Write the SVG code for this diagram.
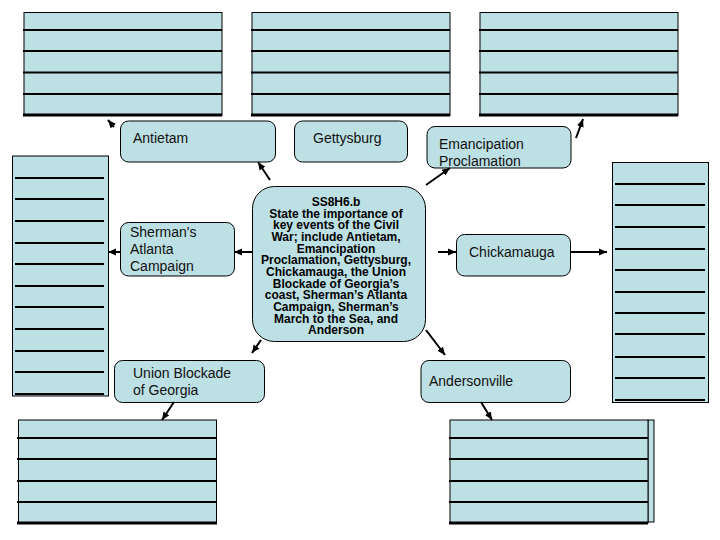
<svg xmlns="http://www.w3.org/2000/svg" width="720" height="540" viewBox="0 0 720 540">
<defs>
<style>
.box{fill:#BDE0E4;stroke:#000;stroke-width:1}
.ln{stroke:#000;stroke-width:2.2;fill:none}
.lb{stroke:#000;stroke-width:3;fill:none}
.node{fill:#BDE0E4;stroke:#000;stroke-width:1}
.t{font-family:"Liberation Sans",Arial,sans-serif;font-size:14px;fill:#111}
.c{font-family:"Liberation Sans",Arial,sans-serif;font-size:12px;font-weight:bold;fill:#000;text-anchor:middle}
.ar{stroke:#000;stroke-width:2;fill:none;marker-end:url(#ah)}
</style>
<marker id="ah" markerUnits="userSpaceOnUse" markerWidth="9" markerHeight="8" refX="8" refY="4" orient="auto">
<path d="M0,0.5 L8,4 L0,7.5 z" fill="#000"/>
</marker>
</defs>
<rect width="720" height="540" fill="#fff"/>

<g id="box-top-left">
<rect class="box" x="24" y="12.5" width="198" height="103"/>
<path class="ln" d="M23,30H222M23,51H222M23,72.5H222M23,94H222"/>
<path class="lb" d="M23,115H222"/>
</g>
<g id="box-top-middle">
<rect class="box" x="252" y="12.5" width="198" height="103"/>
<path class="ln" d="M251,30H450M251,51H450M251,72.5H450M251,94H450"/>
<path class="lb" d="M251,115H450"/>
</g>
<g id="box-top-right">
<rect class="box" x="480" y="12.5" width="198" height="103"/>
<path class="ln" d="M479,30H678M479,51H678M479,72.5H678M479,94H678"/>
<path class="lb" d="M479,115H678"/>
</g>
<g id="box-left">
<rect class="box" x="12.5" y="156" width="96" height="240"/>
<path class="ln" d="M15,178H104M15,199H104M15,221H104M15,243H104M15,264H104M15,286H104M15,307H104M15,329H104M15,351H104M15,372H104M15,394H104"/>
</g>
<g id="box-right">
<rect class="box" x="612.5" y="162.5" width="96" height="240"/>
<path class="ln" d="M615,184H705M615,205H705M615,227H705M615,249H705M615,270H705M615,292H705M615,313H705M615,334H705M615,357H705M615,378H705M615,400H705"/>
</g>
<g id="box-bottom-left">
<rect class="box" x="18.5" y="420" width="198" height="103"/>
<path class="ln" d="M17,438H217M17,459H217M17,481H217M17,502H217"/>
<path class="lb" d="M17,523H217"/>
</g>
<g id="box-bottom-right">
<rect class="box" x="648" y="420" width="6" height="102"/>
<rect class="box" x="450" y="420" width="198" height="103"/>
<path class="ln" d="M449,438H648M449,459H648M449,481H648M449,502H648"/>
<path class="lb" d="M449,523H648"/>
</g>

<g id="center">
<rect class="node" x="252.5" y="186.5" width="173" height="155" rx="22" ry="22"/>
<text class="c" x="336" y="206">SS8H6.b</text>
<text class="c" x="336" y="217.7">State the importance of</text>
<text class="c" x="336" y="229.3">key events of the Civil</text>
<text class="c" x="336" y="241">War; include Antietam,</text>
<text class="c" x="336" y="252.6">Emancipation</text>
<text class="c" x="336" y="264.3">Proclamation, Gettysburg,</text>
<text class="c" x="336" y="275.9">Chickamauga, the Union</text>
<text class="c" x="336" y="287.6">Blockade of Georgia’s</text>
<text class="c" x="336" y="299.2">coast, Sherman’s Atlanta</text>
<text class="c" x="336" y="310.9">Campaign, Sherman’s</text>
<text class="c" x="336" y="322.5">March to the Sea, and</text>
<text class="c" x="336" y="334.2">Anderson</text>
</g>
<g id="antietam">
<rect class="node" x="120.5" y="121" width="155" height="41" rx="8"/>
<text class="t" x="133" y="143">Antietam</text>
</g>
<g id="gettysburg">
<rect class="node" x="294.5" y="121" width="113" height="41" rx="8"/>
<text class="t" x="313" y="143">Gettysburg</text>
</g>
<g id="emancipation">
<rect class="node" x="427" y="126.5" width="144" height="41.5" rx="8"/>
<text class="t" x="439" y="149">Emancipation</text>
<text class="t" x="439" y="166">Proclamation</text>
</g>
<g id="sherman">
<rect class="node" x="120.5" y="222.5" width="114" height="53.5" rx="8"/>
<text class="t" x="130" y="237">Sherman's</text>
<text class="t" x="130" y="254">Atlanta</text>
<text class="t" x="130" y="271">Campaign</text>
</g>
<g id="chickamauga">
<rect class="node" x="456.5" y="234.5" width="114" height="41.5" rx="8"/>
<text class="t" x="469" y="257">Chickamauga</text>
</g>
<g id="union">
<rect class="node" x="114.5" y="360.5" width="150" height="42" rx="8"/>
<text class="t" x="133" y="377.5">Union Blockade</text>
<text class="t" x="133" y="394.5">of Georgia</text>
</g>
<g id="andersonville">
<rect class="node" x="421" y="360.5" width="149.5" height="42" rx="8"/>
<text class="t" x="429" y="386">Andersonville</text>
</g>

<g id="connectors">
<line class="ar" x1="114" y1="127" x2="108" y2="120"/>
<line class="ar" x1="270" y1="180" x2="258" y2="162"/>
<line class="ar" x1="426" y1="185" x2="450" y2="168"/>
<line class="ar" x1="576" y1="138" x2="583" y2="119"/>
<line class="ar" x1="252" y1="252" x2="234" y2="252"/>
<line class="ar" x1="120" y1="252" x2="108" y2="252"/>
<line class="ar" x1="438" y1="252" x2="456" y2="252"/>
<line class="ar" x1="571" y1="252" x2="607" y2="252"/>
<line class="ar" x1="261" y1="340" x2="252" y2="353"/>
<line class="ar" x1="174" y1="402" x2="162" y2="420"/>
<line class="ar" x1="426" y1="330" x2="445" y2="355"/>
<line class="ar" x1="481" y1="402" x2="492" y2="420"/>
</g>
</svg>
